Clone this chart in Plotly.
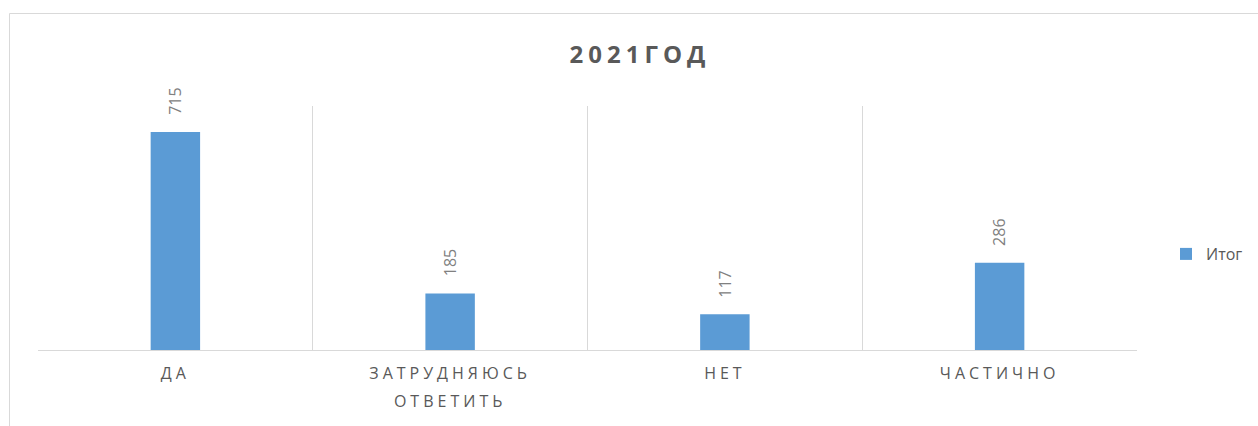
import plotly.graph_objects as go

categories = ["ДА", "ЗАТРУДНЯЮСЬ<br>ОТВЕТИТЬ", "НЕТ", "ЧАСТИЧНО"]
values = [715, 185, 117, 286]
series_name = "Итог"
title_text = "2021ГОД"

W, H = 1258, 426
L, R, T, B = 38, 1137, 106, 350

fig = go.Figure()
fig.add_trace(go.Bar(
    x=categories, y=values, name=series_name,
    marker=dict(color="#5B9BD5", line=dict(width=0)),
    width=0.18, showlegend=True,
))

for c, v in zip(categories, values):
    fig.add_annotation(
        x=c, y=v, xref="x", yref="y", text=str(v), showarrow=False,
        textangle=-90, yanchor="bottom", xanchor="center", yshift=15,
        font=dict(family="Open Sans", size=16, color="#808080"),
    )

pw = R - L
ph = B - T
fig.add_shape(
    type="rect", xref="paper", yref="paper",
    x0=(9.5 - L) / pw, x1=(W + 20 - L) / pw,
    y0=(B - (H + 20)) / ph, y1=(B - 13.5) / ph,
    line=dict(color="#d9d9d9", width=1), fillcolor="rgba(0,0,0,0)", layer="below",
)

fig.update_layout(
    width=W, height=H,
    margin=dict(l=L, r=W - R, t=T, b=H - B, autoexpand=False),
    paper_bgcolor="white", plot_bgcolor="white",
    title=dict(text="<b>" + title_text + "</b>", x=640 / W, xref="container", xanchor="center",
               y=1 - 55 / H, yref="container", yanchor="middle",
               font=dict(family="Open Sans", size=24, color="#595959")),
    font=dict(family="Open Sans", color="#595959"),
    legend=dict(x=(1166 - L) / pw, xanchor="left", y=(B - 254) / ph, yanchor="middle",
                font=dict(family="Open Sans", size=16, color="#595959"),
                bgcolor="rgba(0,0,0,0)", itemwidth=30),
    bargap=0.82,
)
fig.update_xaxes(
    type="category", tickson="boundaries", showgrid=True, gridcolor="#d9d9d9", gridwidth=1,
    showline=True, linecolor="#d9d9d9", linewidth=1, ticks="", ticklen=0,
    tickfont=dict(family="Open Sans", size=16, color="#595959"),
    ticklabelstandoff=9, fixedrange=True,
)
fig.update_yaxes(range=[0, 800], showgrid=False, showticklabels=False, zeroline=False,
                 showline=False, fixedrange=True)

post = """
document.body.style.margin='0';
var s=document.createElement('style');
s.textContent='.xtick text{letter-spacing:4px;} .gtitle{letter-spacing:5px;}';
document.head.appendChild(s);
document.querySelectorAll('.xtick tspan.line').forEach(function(t){
  var d=t.getAttribute('dy');
  if(d && parseFloat(d)>0){ t.setAttribute('dy','1.75em'); }
});
"""
fig.write_html("out.html", post_script=post, config={"displayModeBar": False})
